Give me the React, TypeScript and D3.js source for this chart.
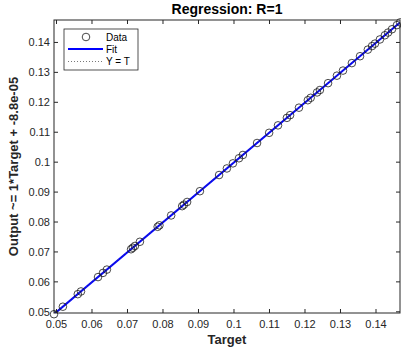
import * as d3 from 'd3';

// Regression data
const targets = [
    0.0493, 0.0518, 0.0560, 0.0569, 0.0617, 0.0631, 0.0642, 0.0710, 0.0715, 0.0721,
    0.0735, 0.0785, 0.0790, 0.0823, 0.0854, 0.0859, 0.0868, 0.0904, 0.0958, 0.0980,
    0.0997, 0.1014, 0.1025, 0.1065, 0.1099, 0.1124, 0.1149, 0.1158, 0.1183, 0.1208,
    0.1216, 0.1234, 0.1242, 0.1265, 0.1290, 0.1307, 0.1332, 0.1355, 0.1377, 0.1389,
    0.1397, 0.1411, 0.1425, 0.1434, 0.1445, 0.1459, 0.1468
];
const outputs = [
    0.0492, 0.0517, 0.0559, 0.0568, 0.0616, 0.0630, 0.0641, 0.0709, 0.0714, 0.0720,
    0.0734, 0.0784, 0.0789, 0.0822, 0.0853, 0.0858, 0.0867, 0.0903, 0.0957, 0.0979,
    0.0996, 0.1013, 0.1024, 0.1064, 0.1098, 0.1123, 0.1148, 0.1157, 0.1182, 0.1207,
    0.1215, 0.1233, 0.1241, 0.1264, 0.1289, 0.1306, 0.1331, 0.1354, 0.1376, 0.1388,
    0.1396, 0.1410, 0.1424, 0.1433, 0.1444, 0.1458, 0.1467
];
const xTicks = [0.05, 0.06, 0.07, 0.08, 0.09, 0.1, 0.11, 0.12, 0.13, 0.14];
const yTicks = [0.05, 0.06, 0.07, 0.08, 0.09, 0.1, 0.11, 0.12, 0.13, 0.14];
const fitSlope = 1;
const fitOffset = -8.8e-05;

export default function App() {
    const width = 401;
    const height = 347;
    const margin = { top: 20, right: 1, bottom: 34, left: 54 };
    const x0 = margin.left;
    const x1 = width - margin.right;
    const y0 = margin.top;
    const y1 = height - margin.bottom;

    const xScale = d3.scaleLinear().domain([0.0493, 0.14676]).range([x0, x1]);
    const yScale = d3.scaleLinear().domain([0.0496, 0.1475]).range([y1, y0]);

    const axisColor = '#262626';
    const font = '"Liberation Sans", Arial, sans-serif';
    const fmt = (v: number) => String(+v.toFixed(2));
    const tickLen = 4;

    const [dMin, dMax] = xScale.domain();
    const line = d3.line<[number, number]>()
        .x(d => xScale(d[0]))
        .y(d => yScale(d[1]));
    const fitPath = line([[dMin, fitSlope * dMin + fitOffset], [dMax, fitSlope * dMax + fitOffset]]) || '';
    const idPath = line([[dMin, dMin], [dMax, dMax]]) || '';

    return (
        <svg width={width} height={height}
            style={{ position: 'absolute', left: 0, top: 0, background: '#fff', fontFamily: font }}>
            <defs>
                <clipPath id="plotClip">
                    <rect x={x0} y={y0} width={x1 - x0} height={y1 - y0} />
                </clipPath>
            </defs>

            {/* Lines */}
            <g clipPath="url(#plotClip)">
                <path d={fitPath} stroke="#0000ff" strokeWidth={2} fill="none" />
                <path d={idPath} stroke="#555" strokeWidth={0.8} strokeDasharray="1,2" fill="none" />
            </g>

            {/* Data markers */}
            {targets.map((t, i) => (
                <circle key={i} cx={xScale(t)} cy={yScale(outputs[i])} r={3.8}
                    fill="none" stroke="#1a1a1a" strokeWidth={0.8} />
            ))}

            {/* Axes box */}
            <rect x={x0} y={y0} width={x1 - x0} height={y1 - y0} fill="none" stroke={axisColor} strokeWidth={1} />

            {xTicks.map(t => (
                <g key={'x' + t}>
                    <line x1={xScale(t)} x2={xScale(t)} y1={y1} y2={y1 - tickLen} stroke={axisColor} />
                    <line x1={xScale(t)} x2={xScale(t)} y1={y0} y2={y0 + tickLen} stroke={axisColor} />
                    <text x={xScale(t)} y={y1 + 15} textAnchor="middle" fontSize={11} fill={axisColor}>{fmt(t)}</text>
                </g>
            ))}
            {yTicks.map(t => (
                <g key={'y' + t}>
                    <line x1={x0} x2={x0 + tickLen} y1={yScale(t)} y2={yScale(t)} stroke={axisColor} />
                    <line x1={x1} x2={x1 - tickLen} y1={yScale(t)} y2={yScale(t)} stroke={axisColor} />
                    <text x={x0 - 4} y={yScale(t) + 4} textAnchor="end" fontSize={11} fill={axisColor}>{fmt(t)}</text>
                </g>
            ))}

            {/* Title and labels */}
            <text x={(x0 + x1) / 2} y={14} textAnchor="middle" fontSize={14} fontWeight="bold" fill="#000">
                Regression: R=1
            </text>
            <text x={(x0 + x1) / 2} y={344} textAnchor="middle" fontSize={13} fontWeight="bold" fill={axisColor}>
                Target
            </text>
            <text transform={`translate(18,${(y0 + y1) / 2}) rotate(-90)`} textAnchor="middle"
                fontSize={13} fontWeight="bold" fill={axisColor}>
                Output ~= 1*Target + -8.8e-05
            </text>

            {/* Legend */}
            <g>
                <rect x={64} y={29} width={74} height={41} fill="#fff" stroke={axisColor} strokeWidth={0.8} />
                <circle cx={86} cy={37} r={3.8} fill="none" stroke="#1a1a1a" strokeWidth={0.8} />
                <text x={106} y={40.5} fontSize={10} fill="#000">Data</text>
                <line x1={68} x2={103} y1={49} y2={49} stroke="#0000ff" strokeWidth={2} />
                <text x={106} y={52.5} fontSize={10} fill="#000">Fit</text>
                <line x1={68} x2={103} y1={61.5} y2={61.5} stroke="#555" strokeWidth={0.8} strokeDasharray="1,2" />
                <text x={106} y={65} fontSize={10} fill="#000">Y = T</text>
            </g>
        </svg>
    );
}
